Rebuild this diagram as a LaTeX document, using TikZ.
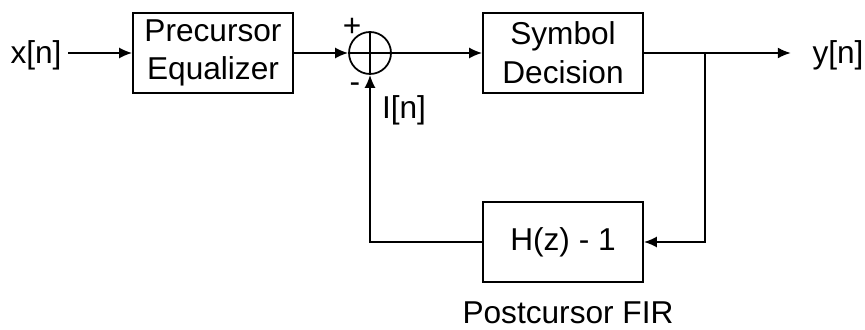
\documentclass[tikz,border=0pt]{standalone}
\usepackage{fontspec}
\setmainfont{Liberation Sans}
\usepackage{tikz}
\usetikzlibrary{arrows.meta}

\begin{document}
\begin{tikzpicture}[x=0.02cm,y=-0.02cm,line width=1pt,
  font=\fontsize{18}{22}\selectfont,
  blk/.style={draw,minimum width=3.2cm,minimum height=1.6cm,align=center},
  sig/.style={-{Latex[length=2.6mm,width=2.2mm]}}]
  \useasboundingbox (0,0) rectangle (865,330);
  % forward path
  \node (xin) at (36,55) {x[n]};
  \node[blk] (pre) at (213,53) {Precursor\\Equalizer};
  \node[draw,circle,minimum size=0.84cm,inner sep=0pt] (sum) at (370,53) {};
  \draw (sum.north) -- (sum.south);
  \draw (sum.west) -- (sum.east);
  \node (plus) at (352,27) {+};
  \node (minus) at (355,88) {-};
  \node (err) at (404,110) {I[n]};
  \node[blk] (dec) at (563,53) {Symbol\\Decision};
  \node (yout) at (838,55) {y[n]};
  % feedback path
  \node[blk] (fir) at (563,242) {H(z) - 1};
  \node (firlbl) at (568,313) {Postcursor FIR};
  \coordinate (br) at (705,53);
  \draw[sig] (xin.east |- sum) -- (pre.west |- sum);
  \draw[sig] (pre.east |- sum) -- (sum.west);
  \draw[sig] (sum.east) -- (dec.west |- sum.east);
  \draw[sig,shorten >=0.3cm] (dec.east |- br) -- (yout.west |- br);
  \draw[sig] (br) |- (fir.east);
  \draw[sig] (fir.west) -| (sum.south);
\end{tikzpicture}
\end{document}
